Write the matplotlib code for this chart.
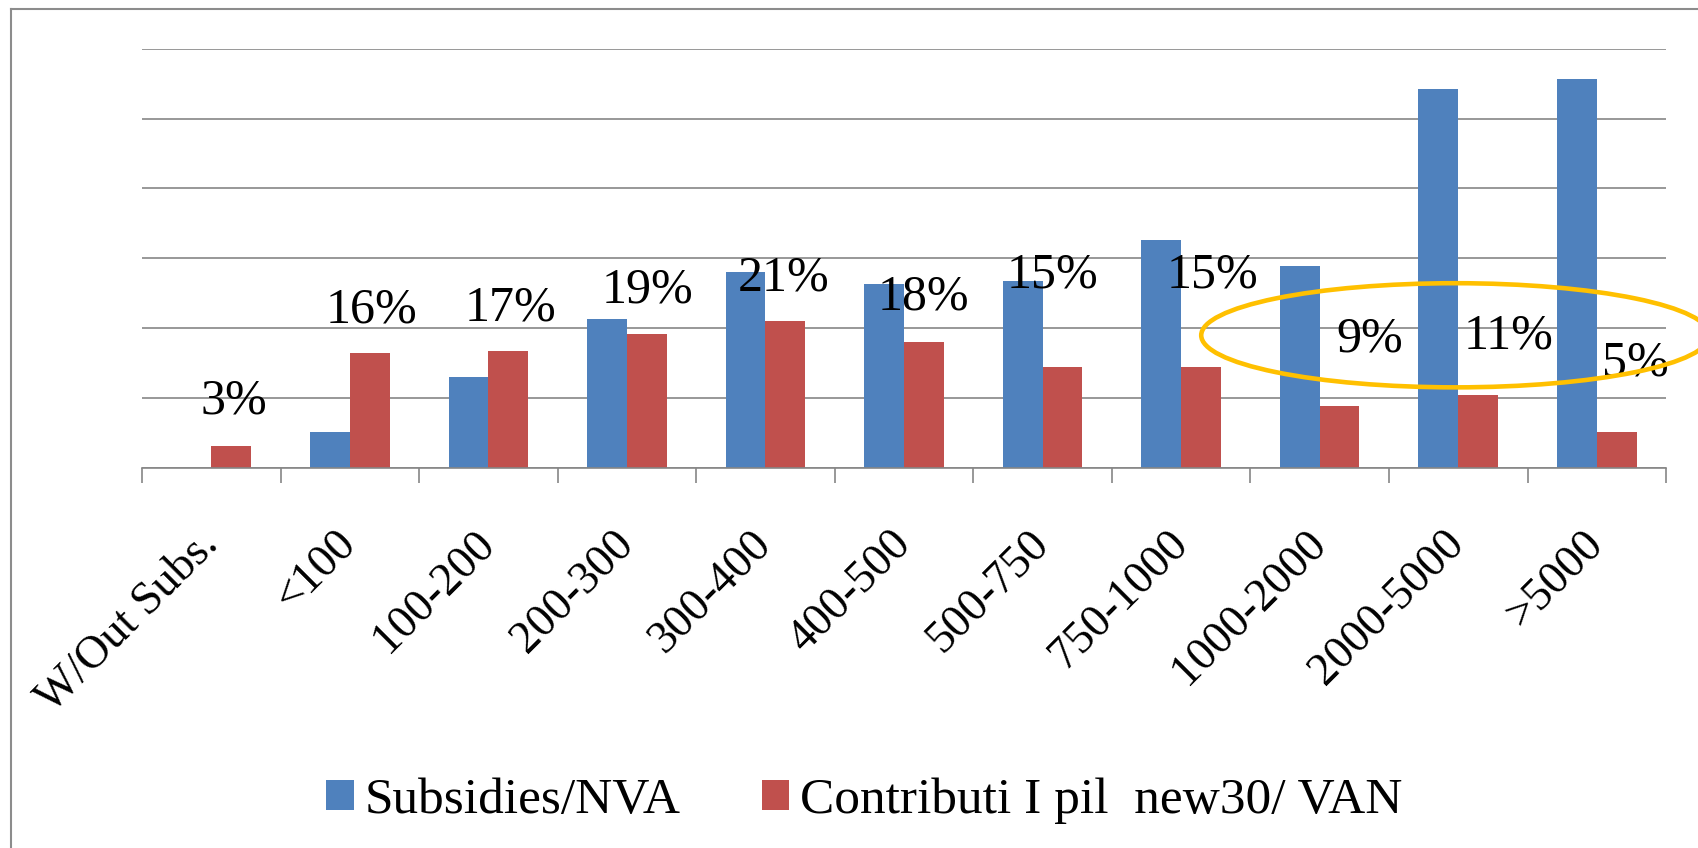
import matplotlib
matplotlib.use("Agg")
import matplotlib.pyplot as plt
import numpy as np
from matplotlib.patches import Ellipse
from matplotlib.lines import Line2D

plt.rcParams["font.family"] = ["Liberation Serif", "DejaVu Serif"]

# ====== data ======
categories = ["W/Out Subs.", "<100", "100-200", "200-300", "300-400", "400-500",
              "500-750", "750-1000", "1000-2000", "2000-5000", ">5000"]
subsidies_nva = [0.0, 5.1, 13.0, 21.4, 28.0, 26.4, 26.7, 32.7, 28.9, 54.3, 55.6]
contributi_van = [3.2, 16.4, 16.7, 19.2, 21.0, 18.0, 14.5, 14.5, 8.9, 10.4, 5.1]
pct_labels = ["3%", "16%", "17%", "19%", "21%", "18%", "15%", "15%", "9%", "11%", "5%"]

# label placement (offset from category centre, y centre in axis units)
label_dx = [0.16, 0.16, 0.16, 0.15, 0.13, 0.14, 0.07, 0.23, 0.36, 0.36, 0.28]
label_y = [9.5, 22.6, 22.8, 25.4, 27.1, 24.5, 27.6, 27.6, 18.5, 18.8, 15.0]

blue = "#4F81BD"
red = "#C0504D"
grid_col = "#868686"

fig = plt.figure(figsize=(16.98, 8.48), dpi=100)
ax = fig.add_axes([0.0836, 0.448, 0.8976, 0.4946])

x = np.arange(len(categories))
w = 0.287
ax.bar(x - w / 2, subsidies_nva, width=w, color=blue, label="Subsidies/NVA", zorder=3)
ax.bar(x + w / 2, contributi_van, width=w, color=red, label="Contributi I pil  new30/ VAN", zorder=3)

for i, txt in enumerate(pct_labels):
    ax.text(x[i] + label_dx[i], label_y[i], txt, ha="center", va="center",
            fontsize=36, color="black", zorder=5)

ax.set_xlim(-0.5, len(categories) - 0.5)
ax.set_ylim(0, 60)

ax.set_yticks(np.arange(0, 61, 10))
ax.yaxis.grid(True, color=grid_col, linewidth=1.2, zorder=0)
ax.tick_params(axis="y", left=False, labelleft=False)

for s in ["top", "right", "left"]:
    ax.spines[s].set_visible(False)
ax.spines["bottom"].set_color(grid_col)
ax.spines["bottom"].set_linewidth(1.2)
ax.spines["bottom"].set_zorder(4)

ax.set_xticks(x)
ax.set_xticklabels(categories, rotation=45, ha="right", va="center",
                   rotation_mode="anchor", fontsize=33)
ax.tick_params(axis="x", length=0, pad=50)
ax.set_xticks(np.arange(-0.5, len(categories), 1.0), minor=True)
ax.tick_params(axis="x", which="minor", length=11, width=1.2, color=grid_col)

# highlight ellipse
ell = Ellipse((8.98, 19.0), width=3.67, height=14.9, fill=False,
              edgecolor="#FFC000", linewidth=3.3, zorder=6, clip_on=False)
ax.add_patch(ell)

ax.legend(loc="center", bbox_to_anchor=(0.509, 0.0554), bbox_transform=fig.transFigure,
          ncol=2, frameon=False, fontsize=37, handlelength=0.53, handleheight=0.53,
          handletextpad=0.21, columnspacing=1.58)

# outer frame (left and top edges visible only)
fig.add_artist(Line2D([11 / 1698, 11 / 1698], [0, 1 - 9 / 848], color="#8c8c8c", linewidth=1.5))
fig.add_artist(Line2D([11 / 1698, 1], [1 - 9 / 848, 1 - 9 / 848], color="#8c8c8c", linewidth=1.5))

fig.savefig("out.png", dpi=100)
plt.close(fig)
